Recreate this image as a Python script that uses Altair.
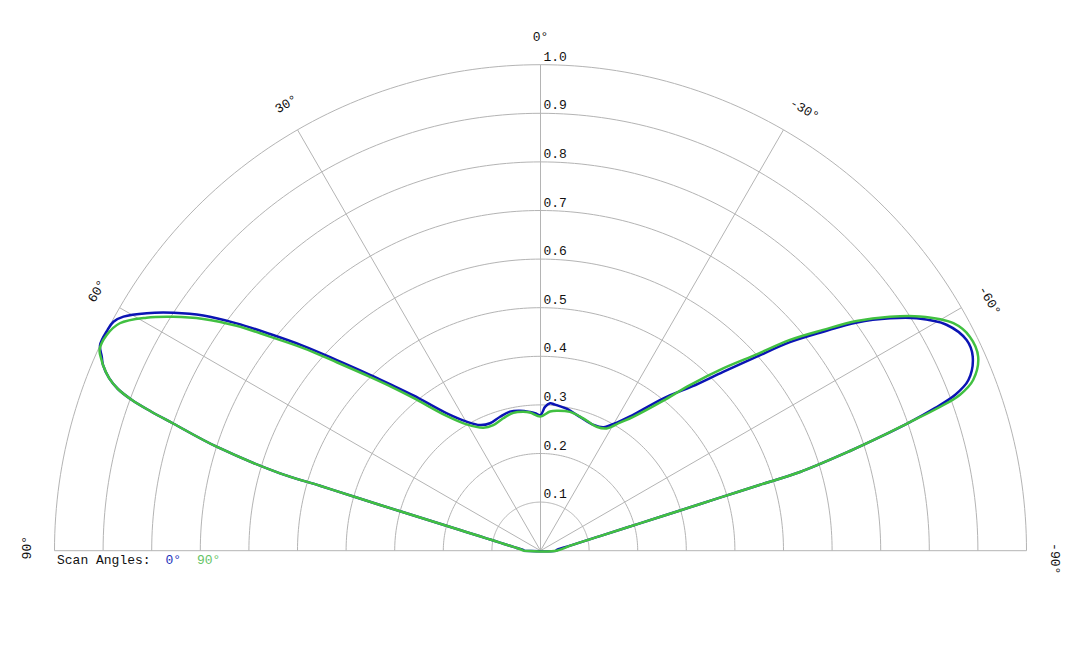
import altair as alt
import pandas as pd
import numpy as np

# ---------------- data ----------------
ring_values = [0.1, 0.2, 0.3, 0.4, 0.5, 0.6, 0.7, 0.8, 0.9, 1.0]
spoke_angles = [90, 60, 30, 0, -30, -60, -90]
angle_labels = ["90°", "60°", "30°", "0°", "-30°", "-60°", "-90°"]
series_names = ["0°", "90°"]

blue_theta = [90, 87.7, 83.4, 80.9, 78.8, 77.5, 76.6, 75.6, 75.0, 74.3, 73.9, 73.6, 73.45,
              72.2, 70.9, 70.31, 69.75, 69.06, 68.2, 67.0, 66.15, 65.0, 63.0, 61.8, 60.7,
              58.9, 57.05, 55.1, 53.2, 51.3, 49.2, 46.9, 44.1, 42.1, 39.3, 34.3, 29.8, 25.7,
              21.6, 16.8, 12.4, 8.3, 4.3, 2.3, 0.0, -1.8, -3.7, -5.7, -10.4, -16.4, -22.8,
              -27.0, -30.8, -33.7, -38.9, -42.7, -45.6, -48.1, -50.1, -52.25, -54.2, -56.4,
              -58.3, -60.9, -63.7, -65.8, -68.25, -69.41, -70.11, -70.8, -71.48, -72.14,
              -73.13, -73.29, -73.52, -73.93, -74.6, -76.2, -80.4, -87.5, -90]
blue_r = [0.035, 0.035, 0.049, 0.064, 0.085, 0.106, 0.128, 0.171, 0.214, 0.300, 0.387, 0.473,
          0.559, 0.700, 0.800, 0.853, 0.896, 0.931, 0.956, 0.978, 0.987, 1.000, 1.000, 0.997,
          0.984, 0.946, 0.900, 0.846, 0.781, 0.713, 0.645, 0.574, 0.504, 0.462, 0.413, 0.342,
          0.306, 0.287, 0.282, 0.288, 0.293, 0.291, 0.286, 0.283, 0.279, 0.296, 0.304, 0.302,
          0.297, 0.287, 0.281, 0.285, 0.307, 0.332, 0.403, 0.460, 0.526, 0.598, 0.669, 0.736,
          0.803, 0.864, 0.910, 0.956, 0.978, 0.975, 0.948, 0.911, 0.863, 0.805, 0.737, 0.669,
          0.558, 0.472, 0.385, 0.299, 0.212, 0.126, 0.062, 0.033, 0.033]

green_theta = [90, 83.4, 80.9, 78.8, 77.5, 76.6, 75.6, 75.0, 74.3, 73.9, 73.6, 73.45, 72.2,
               70.9, 70.31, 69.75, 69.06, 68.2, 67.0, 66.5, 65.5, 63.6, 61.6, 59.4, 57.5,
               55.5, 53.5, 51.65, 49.5, 47.2, 44.4, 42.4, 39.7, 34.85, 30.3, 24.9, 20.6,
               15.7, 11.15, 7.05, 4.35, 0.0, -3.9, -6.6, -12.0, -17.9, -24.4, -28.4, -31.8,
               -34.7, -39.3, -42.05, -45.05, -47.75, -49.8, -52.0, -54.0, -56.2, -58.3,
               -61.15, -63.5, -66.1, -68.47, -69.6, -70.25, -70.8, -71.48, -72.14, -73.13,
               -73.29, -73.52, -73.93, -74.6, -76.2, -80.4, -90]
green_r = [0.035, 0.049, 0.064, 0.085, 0.106, 0.128, 0.171, 0.214, 0.300, 0.387, 0.473, 0.559,
           0.700, 0.800, 0.853, 0.896, 0.931, 0.956, 0.978, 0.985, 0.997, 0.997, 0.984, 0.942,
           0.896, 0.842, 0.778, 0.710, 0.642, 0.570, 0.500, 0.458, 0.408, 0.338, 0.301, 0.279,
           0.276, 0.283, 0.289, 0.288, 0.285, 0.276, 0.287, 0.290, 0.292, 0.286, 0.280, 0.286,
           0.310, 0.335, 0.399, 0.459, 0.531, 0.601, 0.672, 0.738, 0.804, 0.865, 0.917, 0.970,
           0.987, 0.985, 0.957, 0.921, 0.869, 0.805, 0.737, 0.669, 0.558, 0.472, 0.385, 0.299,
           0.212, 0.126, 0.062, 0.033]

# ---------------- layout ----------------
R_PX = 486.0
CX, CY = 532.5, 542.7          # polar centre in view pixels
W, H = 1064, 632
xs = alt.Scale(domain=[-CX / R_PX, (W - CX) / R_PX], nice=False, zero=False)
ys = alt.Scale(domain=[(CY - H) / R_PX, CY / R_PX], nice=False, zero=False)
FONT = "Liberation Mono, Courier New, monospace"
BLUE = "#0b14b4"
GREEN = "#41c041"
GRID = "#b4b4b4"

X = lambda f="px": alt.X(f"{f}:Q", scale=xs, axis=None)
Y = lambda f="py": alt.Y(f"{f}:Q", scale=ys, axis=None)
to_x = "-datum.r*sin(datum.theta*PI/180)"
to_y = "datum.r*cos(datum.theta*PI/180)"

# rings
ring_rows = [dict(r=r, theta=float(a)) for r in ring_values for a in np.arange(-90, 90.5, 1.0)]
rings = (alt.Chart(pd.DataFrame(ring_rows))
         .transform_calculate(px=to_x, py=to_y)
         .mark_line(color=GRID, strokeWidth=1)
         .encode(x=X(), y=Y(), detail="r:N", order="theta:Q"))

# spokes
spokes = (alt.Chart(pd.DataFrame({"theta": spoke_angles, "r": 1.0}))
          .transform_calculate(px=to_x, py=to_y, x0="0", y0="0")
          .mark_rule(color=GRID, strokeWidth=1)
          .encode(x=X("x0"), y=Y("y0"), x2="px:Q", y2="py:Q"))

# radial tick labels
rlabels = (alt.Chart(pd.DataFrame({"r": ring_values}))
           .transform_calculate(px="0", py="datum.r", lab="format(datum.r, '.1f')")
           .mark_text(align="left", baseline="alphabetic", dx=3, dy=-4,
                      font=FONT, fontSize=13, color="#111")
           .encode(x=X(), y=Y(), text="lab:N"))

# angle labels
LR = 514.0 / R_PX
alabels = (alt.Chart(pd.DataFrame({"theta": spoke_angles, "lab": angle_labels}))
           .transform_calculate(
               sh=f"(datum.theta < 0 ? 8 : (datum.theta == 0 ? 0 : 3)) / {R_PX}",
               px=f"-{LR}*sin(datum.theta*PI/180) + datum.sh*cos(datum.theta*PI/180)",
               py=f"{LR}*cos(datum.theta*PI/180) + datum.sh*sin(datum.theta*PI/180)",
               rot="(360 - datum.theta) % 360")
           .mark_text(align="center", baseline="middle", font=FONT, fontSize=13, color="#111")
           .encode(x=X(), y=Y(), text="lab:N", angle=alt.Angle("rot:Q", scale=None)))

# curves (closed paths)
rows = []
for name, th, rr in [(series_names[0], blue_theta, blue_r), (series_names[1], green_theta, green_r)]:
    for i, (t, r) in enumerate(zip(th, rr, strict=True)):
        rows.append(dict(series=name, theta=t, r=r, i=i))
    rows.append(dict(series=name, theta=th[0], r=rr[0], i=len(th)))
curves = pd.DataFrame(rows)


def curve(name, color):
    return (alt.Chart(curves)
            .transform_filter(alt.datum.series == name)
            .transform_calculate(px=to_x, py=to_y)
            .mark_line(color=color, strokeWidth=2.5, strokeJoin="round",
                       interpolate="catmull-rom")
            .encode(x=X(), y=Y(), order="i:Q"))


blue_line = curve(series_names[0], BLUE)
green_line = curve(series_names[1], GREEN)

# legend
leg_df = pd.DataFrame({"k": [0]})
leg_base = alt.Chart(leg_df)
leg_title = leg_base.mark_text(align="left", baseline="alphabetic", font=FONT, fontSize=13,
                               color="#111").encode(x=alt.value(49), y=alt.value(556),
                                                    text=alt.value("Scan Angles:"))
leg_blue = leg_base.mark_text(align="left", baseline="alphabetic", font=FONT, fontSize=13,
                              color="#2233bb").encode(x=alt.value(157.5), y=alt.value(556),
                                                      text=alt.value(series_names[0]))
leg_green = leg_base.mark_text(align="left", baseline="alphabetic", font=FONT, fontSize=13,
                               color="#66c466").encode(x=alt.value(189), y=alt.value(556),
                                                       text=alt.value(series_names[1]))

chart = (alt.layer(rings, spokes, rlabels, alabels, blue_line, green_line,
                   leg_title, leg_blue, leg_green)
         .properties(width=W, height=H, padding=0, autosize="none")
         .configure_view(strokeWidth=0))

chart.save("out.html", embed_options={"renderer": "svg", "actions": False})
